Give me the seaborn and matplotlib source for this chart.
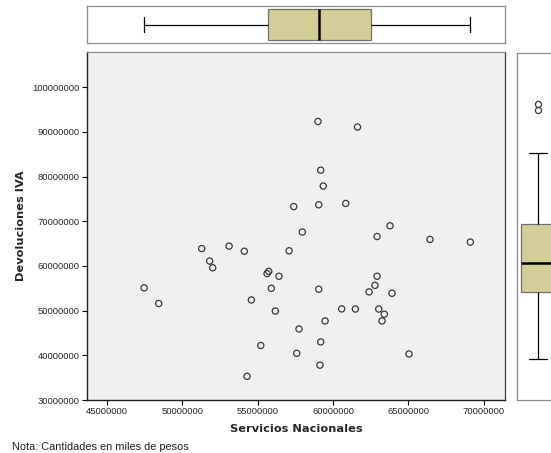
import matplotlib
matplotlib.use("Agg")
import matplotlib.pyplot as plt
import seaborn as sns
import numpy as np
import pandas as pd

# values (pesos, thousands)
servicios_nacionales = [
    47460000, 48430000, 51280000, 51810000, 52010000, 53100000, 54110000,
    57080000, 54290000, 54580000, 55200000, 55620000, 55730000, 56410000,
    55900000, 56170000, 57740000, 57590000, 57390000, 57960000, 59000000,
    61620000, 59180000, 59350000, 59050000, 60840000, 59050000, 59470000,
    59180000, 59130000, 60570000, 61480000, 63780000, 62920000, 66430000,
    69110000, 62920000, 62780000, 62390000, 63910000, 63030000, 63400000,
    63250000, 65040000,
]
devoluciones_iva = [
    55100000, 51600000, 63900000, 61100000, 59600000, 64450000, 63300000,
    63400000, 35300000, 52400000, 42200000, 58300000, 58800000, 57700000,
    55000000, 49900000, 45900000, 40450000, 73300000, 67600000, 92350000,
    91100000, 81450000, 77900000, 73700000, 74000000, 54800000, 47700000,
    43000000, 37800000, 50400000, 50360000, 69000000, 66600000, 65950000,
    65350000, 57700000, 55660000, 54200000, 53900000, 50360000, 49200000,
    47700000, 40300000,
]
x_ticks = [45000000, 50000000, 55000000, 60000000, 65000000, 70000000]
y_ticks = [30000000, 40000000, 50000000, 60000000, 70000000, 80000000,
           90000000, 100000000]

df = pd.DataFrame({"servicios": servicios_nacionales,
                   "devoluciones": devoluciones_iva})

sns.set_style("white")
plt.rcParams["font.family"] = ["Liberation Sans", "DejaVu Sans"]

BOX_COLOR = "#d3ce97"
W, H = 551, 453
fig = plt.figure(figsize=(W / 100, H / 100), dpi=100)


def frac(left, top, right, bottom):
    return [left / W, 1 - bottom / H, (right - left) / W, (bottom - top) / H]


ax = fig.add_axes(frac(87, 52, 505, 400))
ax_top = fig.add_axes(frac(87, 6, 505, 43))
ax_right = fig.add_axes(frac(517, 53, 559, 400))

# ----------------------------------------------------------------
# scatter
# ----------------------------------------------------------------
ax.set_facecolor("#f0f0f0")
sns.scatterplot(data=df, x="servicios", y="devoluciones", ax=ax,
                marker="o", s=20, facecolors="none", edgecolor="#3a3a3a",
                linewidth=0.9)
ax.set_xlim(43670000, 71410000)
ax.set_ylim(30000000, 107900000)
ax.set_xticks(x_ticks)
ax.set_yticks(y_ticks)
ax.set_xticklabels([str(t) for t in x_ticks])
ax.set_yticklabels([str(t) for t in y_ticks])
ax.tick_params(axis="both", which="major", labelsize=6.8, length=3.6,
               width=0.8, color="black", direction="out", pad=1.5,
               bottom=True, left=True)
ax.set_xlabel("Servicios Nacionales", fontsize=8.2, fontweight="bold",
              family=["DejaVu Sans"], labelpad=6)
ax.set_ylabel("Devoluciones IVA", fontsize=8.2, fontweight="bold",
              family=["DejaVu Sans"], labelpad=5)
for side in ["left", "bottom"]:
    ax.spines[side].set_color("#222222")
    ax.spines[side].set_linewidth(1.0)
ax.spines["top"].set_color("#8a8a8a")
ax.spines["right"].set_color("#3a3a3a")
for side in ["top", "right"]:
    ax.spines[side].set_linewidth(0.9)

box_kw = dict(color=BOX_COLOR, saturation=1, width=0.82, linewidth=0.9,
              boxprops=dict(edgecolor="#707070"),
              whiskerprops=dict(color="black"),
              capprops=dict(color="black"),
              medianprops=dict(color="black", linewidth=1.8),
              flierprops=dict(marker="o", markerfacecolor="none",
                              markeredgecolor="#3a3a3a", markersize=4.4,
                              markeredgewidth=0.9))

# ----------------------------------------------------------------
# marginal box plots
# ----------------------------------------------------------------
sns.boxplot(x=df["servicios"], ax=ax_top, **box_kw)
ax_top.set_xlim(ax.get_xlim())
ax_top.set_ylim(0.5, -0.5)

sns.boxplot(y=df["devoluciones"], ax=ax_right, **box_kw)
ax_right.set_xlim(-0.5, 0.5)
ax_right.set_ylim(26130000, 103760000)

for a in (ax_top, ax_right):
    a.set_xticks([])
    a.set_yticks([])
    a.set_xlabel("")
    a.set_ylabel("")
    a.set_facecolor("white")
    for s in a.spines.values():
        s.set_visible(True)
        s.set_color("#8c8c8c")
        s.set_linewidth(0.9)

fig.text(12 / W, 1 - 447 / H, "Nota: Cantidades en miles de pesos",
         fontsize=7.9, va="center", ha="left", color="#222222")

fig.savefig("out.png", dpi=100)
